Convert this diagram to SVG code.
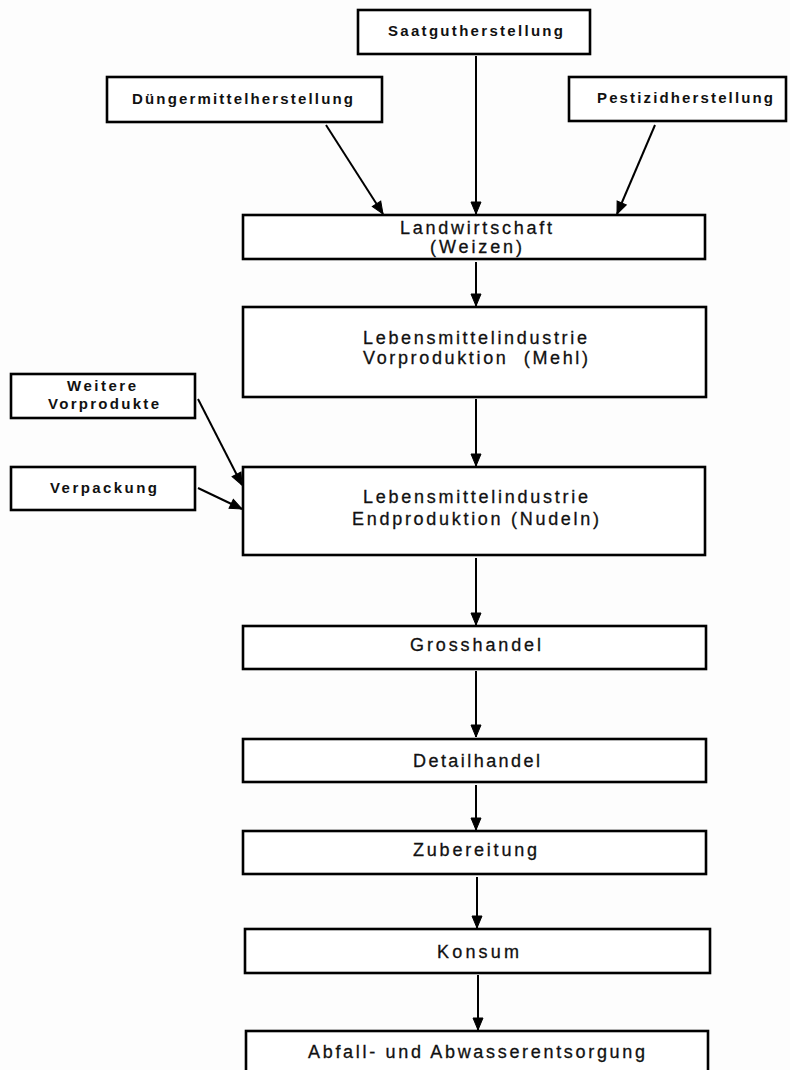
<svg xmlns="http://www.w3.org/2000/svg" width="790" height="1070" viewBox="0 0 790 1070">
<style>
.box{fill:#fff;stroke:#000;stroke-width:2.6}
.small{font-family:"Liberation Sans",Arial,sans-serif;font-weight:bold;font-size:15px;fill:#111;text-anchor:start}
.main{font-family:"Liberation Sans",Arial,sans-serif;font-size:18px;fill:#111;stroke:#111;stroke-width:0.3;text-anchor:start}
.conn{stroke:#000;stroke-width:2;fill:none;marker-end:url(#ah)}
</style>
<defs>
<marker id="ah" markerUnits="userSpaceOnUse" markerWidth="14" markerHeight="14" viewBox="0 0 14 14" refX="13" refY="7" orient="auto">
<path d="M1,2 L13,7 L1,12 Z" fill="#000" stroke="#000" stroke-width="1"/>
</marker>
</defs>
<rect width="790" height="1070" fill="#fdfdfd"/>
<g id="connectors">
<line class="conn" x1="476" y1="56" x2="476" y2="214"/>
<line class="conn" x1="326" y1="125" x2="383" y2="214"/>
<line class="conn" x1="655" y1="125" x2="617" y2="214"/>
<line class="conn" x1="476" y1="262" x2="476" y2="306"/>
<line class="conn" x1="476" y1="399" x2="476" y2="466"/>
<line class="conn" x1="198" y1="399" x2="242" y2="485"/>
<line class="conn" x1="198" y1="488" x2="242" y2="509"/>
<line class="conn" x1="476" y1="558" x2="476" y2="625"/>
<line class="conn" x1="476" y1="671" x2="476" y2="737"/>
<line class="conn" x1="476" y1="785" x2="476" y2="830"/>
<line class="conn" x1="477" y1="877" x2="477" y2="928"/>
<line class="conn" x1="478" y1="975" x2="478" y2="1030"/>
</g>
<g id="saatgut">
<rect class="box" x="358" y="10" width="232" height="44"/>
<text class="small" x="388" y="36" textLength="175" lengthAdjust="spacing">Saatgutherstellung</text>
</g>
<g id="duenger">
<rect class="box" x="107" y="77" width="275" height="45"/>
<text class="small" x="132" y="104" textLength="221" lengthAdjust="spacing">Düngermittelherstellung</text>
</g>
<g id="pestizid">
<rect class="box" x="569" y="77" width="217" height="44"/>
<text class="small" x="597" y="103" textLength="176" lengthAdjust="spacing">Pestizidherstellung</text>
</g>
<g id="landwirtschaft">
<rect class="box" x="243" y="215" width="462" height="44"/>
<text class="main" x="400" y="234" textLength="152" lengthAdjust="spacing">Landwirtschaft</text>
<text class="main" x="430" y="253" textLength="92" lengthAdjust="spacing">(Weizen)</text>
</g>
<g id="vorproduktion">
<rect class="box" x="243" y="307" width="463" height="90"/>
<text class="main" x="363" y="344" textLength="224" lengthAdjust="spacing">Lebensmittelindustrie</text>
<text class="main" x="363" y="364" textLength="225" lengthAdjust="spacing">Vorproduktion&#160; (Mehl)</text>
</g>
<g id="weitere">
<rect class="box" x="11" y="374" width="184" height="44"/>
<text class="small" x="67" y="391" textLength="69" lengthAdjust="spacing">Weitere</text>
<text class="small" x="48" y="409" textLength="111" lengthAdjust="spacing">Vorprodukte</text>
</g>
<g id="verpackung">
<rect class="box" x="11" y="467" width="184" height="43"/>
<text class="small" x="50" y="493" textLength="107" lengthAdjust="spacing">Verpackung</text>
</g>
<g id="endproduktion">
<rect class="box" x="243" y="467" width="462" height="88"/>
<text class="main" x="363" y="503" textLength="225" lengthAdjust="spacing">Lebensmittelindustrie</text>
<text class="main" x="352" y="525" textLength="247" lengthAdjust="spacing">Endproduktion (Nudeln)</text>
</g>
<g id="grosshandel">
<rect class="box" x="243" y="626" width="463" height="43"/>
<text class="main" x="410" y="651" textLength="131" lengthAdjust="spacing">Grosshandel</text>
</g>
<g id="detailhandel">
<rect class="box" x="243" y="739" width="463" height="43"/>
<text class="main" x="413" y="767" textLength="127" lengthAdjust="spacing">Detailhandel</text>
</g>
<g id="zubereitung">
<rect class="box" x="243" y="831" width="463" height="43"/>
<text class="main" x="413" y="856" textLength="124" lengthAdjust="spacing">Zubereitung</text>
</g>
<g id="konsum">
<rect class="box" x="245" y="929" width="465" height="44"/>
<text class="main" x="437" y="958" textLength="82" lengthAdjust="spacing">Konsum</text>
</g>
<g id="abfall">
<rect class="box" x="246" y="1031" width="462" height="44"/>
<text class="main" x="308" y="1058" textLength="337" lengthAdjust="spacing">Abfall- und Abwasserentsorgung</text>
</g>
</svg>
